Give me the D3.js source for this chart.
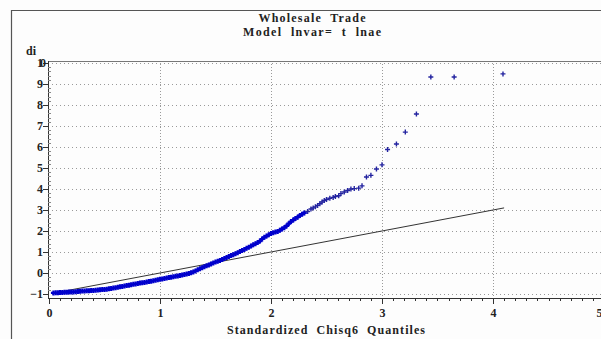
<!DOCTYPE html>
<html><head><meta charset="utf-8">
<script src="https://cdn.jsdelivr.net/npm/d3@7"></script>
<style>body{margin:0;background:#fff}svg{display:block}</style>
</head><body><svg id="c" width="601" height="339"></svg>
<script>
const titleLines = ["Wholesale  Trade", "Model  lnvar=  t  lnae"];
const xTitle = "Standardized  Chisq6  Quantiles";
const yTitle = "di";
const xTicks = [0, 1, 2, 3, 4, 5];
const yTicks = [-1, 0, 1, 2, 3, 4, 5, 6, 7, 8, 9, 10];
// quantile plot points (x = standardized chisq6 quantile, y = di)
const qX = [0.04,0.06,0.08,0.10,0.12,0.14,0.16,0.18,0.20,0.22,0.24,0.26,0.28,0.30,0.32,0.34,0.36,0.38,0.40,0.42,
0.44,0.46,0.48,0.50,0.52,0.54,0.56,0.58,0.60,0.62,0.64,0.66,0.68,0.70,0.72,0.74,0.76,0.78,0.80,0.82,
0.84,0.86,0.88,0.90,0.92,0.94,0.96,0.98,1.00,1.02,1.04,1.06,1.08,1.10,1.12,1.14,1.16,1.18,1.20,1.22,
1.24,1.26,1.28,1.30,1.32,1.34,1.36,1.38,1.40,1.42,1.44,1.46,1.48,1.50,1.52,1.54,1.56,1.58,1.60,1.62,
1.64,1.66,1.68,1.70,1.72,1.74,1.76,1.78,1.80,1.82,1.84,1.86,1.88,1.90,1.92,1.94,1.96,1.98,2.00,2.02,
2.04,2.06,2.08,2.10,2.12,2.14,2.16,2.18,2.20,2.22,2.24,2.26,2.28,2.30,
2.33,2.36,2.38,2.40,2.42,2.44,2.46,2.48,2.50,2.53,2.56,2.58,2.61,2.63,2.66,2.69,2.72,2.75,2.79,2.82,
2.86,2.90,2.95,3.00,3.05,3.13,3.21,3.31,3.44,3.65,4.09];
const qY = [-0.95,-0.94,-0.94,-0.93,-0.93,-0.92,-0.92,-0.91,-0.90,-0.90,-0.89,-0.88,-0.87,-0.86,-0.86,-0.85,-0.84,-0.83,-0.83,-0.82,
-0.81,-0.80,-0.79,-0.78,-0.77,-0.75,-0.74,-0.72,-0.70,-0.68,-0.66,-0.64,-0.62,-0.60,-0.58,-0.56,-0.54,-0.52,-0.50,-0.48,
-0.47,-0.45,-0.43,-0.41,-0.39,-0.37,-0.34,-0.32,-0.30,-0.28,-0.26,-0.24,-0.22,-0.20,-0.18,-0.16,-0.14,-0.12,-0.10,-0.07,
-0.05,-0.02,0.01,0.05,0.10,0.15,0.20,0.25,0.30,0.34,0.38,0.43,0.48,0.52,0.56,0.60,0.64,0.69,0.74,0.78,
0.83,0.87,0.92,0.97,1.02,1.07,1.12,1.18,1.23,1.28,1.34,1.39,1.45,1.52,1.62,1.70,1.76,1.82,1.88,1.92,
1.95,1.98,2.03,2.10,2.16,2.24,2.35,2.45,2.52,2.60,2.66,2.74,2.80,2.86,
2.93,3.05,3.10,3.15,3.22,3.30,3.38,3.45,3.50,3.56,3.60,3.64,3.68,3.78,3.86,3.93,4.00,4.02,4.04,4.15,
4.57,4.65,4.95,5.15,5.88,6.14,6.71,7.57,9.33,9.33,9.48];
// reference line
const refX = [0.05, 4.1];
const refY = [-0.95, 3.1];

const svg = d3.select("#c");
const FONT = "Liberation Serif";
svg.append("rect").attr("width",601).attr("height",339).attr("fill","#fdfdfd");
// outer frame
svg.append("path").attr("d","M11.5,345 V10.5 H605").attr("fill","none").attr("stroke","#555").attr("stroke-width",1.2);

const x = d3.scaleLinear().domain([0,5]).range([49,604]);
const y = d3.scaleLinear().domain([-1,10]).range([294,63]);
const plotTop = 61, plotBottom = 298, plotLeft = 48, plotRight = 610;

// grid
const gridColor = "#9a9a9a";
svg.append("g").selectAll("line").data(yTicks).join("line")
  .attr("x1",plotLeft).attr("x2",plotRight)
  .attr("y1",d=>Math.round(y(d))+0.5).attr("y2",d=>Math.round(y(d))+0.5)
  .attr("stroke",gridColor).attr("stroke-width",1).attr("stroke-dasharray","1,3");
svg.append("g").selectAll("line").data(xTicks.filter(d=>d>0)).join("line")
  .attr("x1",d=>Math.round(x(d))+0.5).attr("x2",d=>Math.round(x(d))+0.5)
  .attr("y1",plotTop).attr("y2",plotBottom)
  .attr("stroke",gridColor).attr("stroke-width",1).attr("stroke-dasharray","1,2");

// plot frame top
svg.append("line").attr("x1",plotLeft).attr("x2",plotRight).attr("y1",plotTop+0.5).attr("y2",plotTop+0.5)
  .attr("stroke","#777").attr("stroke-width",1);

// axes
const xAxis = d3.axisBottom(x).tickValues(xTicks).tickSize(6).tickFormat(d3.format("d"));
const gx = svg.append("g").attr("transform",`translate(0,${plotBottom})`).call(xAxis);
gx.select(".domain").attr("d",`M${plotLeft},0.5H${plotRight}`).attr("stroke","#333");
gx.selectAll(".tick line").attr("stroke","#333");
gx.selectAll(".tick text").attr("font-family",FONT).attr("font-weight","bold").attr("font-size",12).attr("fill","#222").attr("dy","0.85em")
  .attr("text-anchor",d=>d===5?"start":"middle").attr("x",d=>d===5?-8:0);
const xMinor = d3.range(0,5.6,0.1).filter(v=>Math.abs(v-Math.round(v))>1e-6);
svg.append("g").selectAll("line").data(xMinor).join("line")
  .attr("x1",d=>Math.round(x(d))+0.5).attr("x2",d=>Math.round(x(d))+0.5)
  .attr("y1",plotBottom).attr("y2",plotBottom+3).attr("stroke","#333");

const yAxis = d3.axisLeft(y).tickValues(yTicks).tickSize(5).tickFormat(d=>d<0?"\u2212"+Math.abs(d):String(d));
const gy = svg.append("g").attr("transform",`translate(${plotLeft},0)`).call(yAxis);
gy.select(".domain").attr("d",`M0.5,${plotTop}V${plotBottom}`).attr("stroke","#333");
gy.selectAll(".tick line").attr("stroke","#333");
gy.selectAll(".tick text").attr("font-family",FONT).attr("font-weight","bold").attr("font-size",12).attr("fill","#222").attr("x",-5)
  .attr("letter-spacing",d=>d===10?"-3px":"0");
const yMinor = d3.range(-1,10.01,0.2).filter(v=>Math.abs(v-Math.round(v))>1e-6);
svg.append("g").selectAll("line").data(yMinor).join("line")
  .attr("x1",plotLeft).attr("x2",plotLeft+3)
  .attr("y1",d=>Math.round(y(d))+0.5).attr("y2",d=>Math.round(y(d))+0.5).attr("stroke","#888");

// reference line
svg.append("line").attr("x1",x(refX[0])).attr("y1",y(refY[0])).attr("x2",x(refX[1])).attr("y2",y(refY[1]))
  .attr("stroke","#333").attr("stroke-width",1);

// points as plus markers
const pts = qX.map((v,i)=>[v,qY[i]]);
svg.append("g").selectAll("path").data(pts).join("path")
  .attr("d",d=>{const cx=x(d[0]), cy=y(d[1]); return `M${cx-2.5},${cy}H${cx+2.5}M${cx},${cy-2.5}V${cy+2.5}`;})
  .attr("stroke",(d,i)=>i<114?"#0000cc":"#2424a0").attr("stroke-width",(d,i)=>i<114?2.2:1.4).attr("fill","none");

// titles
const titleW = [107, 138];
svg.append("g").selectAll("text").data(titleLines).join("text")
  .attr("x",312).attr("y",(d,i)=>22+i*14).attr("text-anchor","middle")
  .attr("font-family",FONT).attr("font-weight","bold").attr("font-size",12).attr("fill","#222")
  .attr("textLength",(d,i)=>titleW[i]).attr("lengthAdjust","spacing")
  .attr("xml:space","preserve").text(d=>d);
svg.append("text").attr("x",326).attr("y",334).attr("text-anchor","middle")
  .attr("font-family",FONT).attr("font-weight","bold").attr("font-size",12).attr("fill","#222")
  .attr("textLength",198).attr("lengthAdjust","spacing")
  .attr("xml:space","preserve").text(xTitle);
svg.append("text").attr("x",26).attr("y",55)
  .attr("font-family",FONT).attr("font-weight","bold").attr("font-size",12).attr("fill","#222").text(yTitle);
</script></body></html>
